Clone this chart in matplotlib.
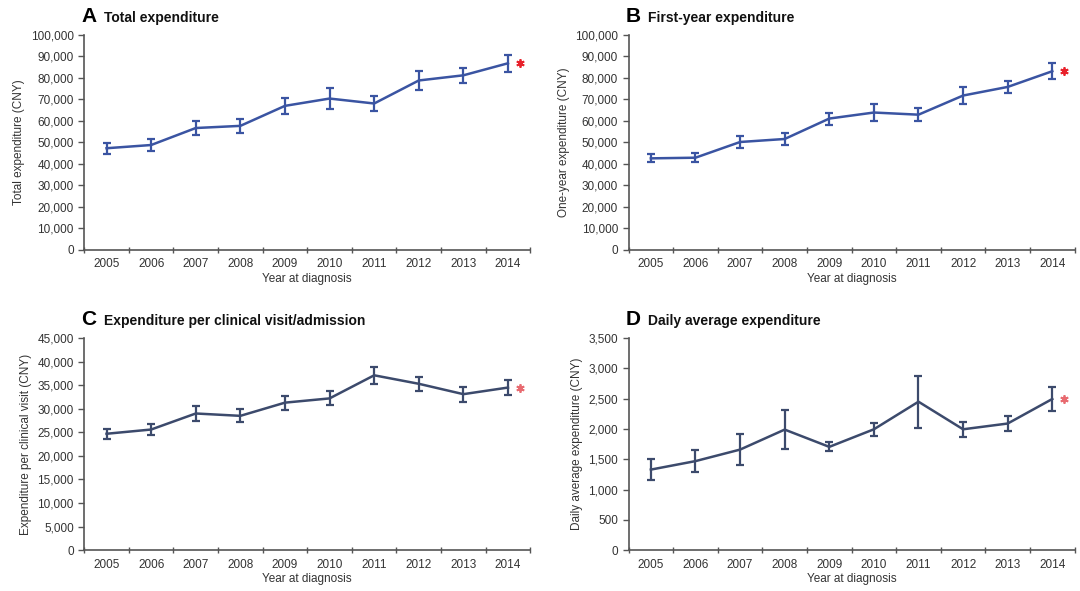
import matplotlib.pyplot as plt
from matplotlib.ticker import FuncFormatter, FixedLocator
import numpy as np

plt.rcParams["font.family"] = ["Liberation Sans", "DejaVu Sans"]

# ---------------- data ----------------
years = ["2005", "2006", "2007", "2008", "2009", "2010", "2011", "2012", "2013", "2014"]

total_mean = [47300, 48800, 56700, 57700, 67000, 70400, 68100, 78800, 81200, 86800]
total_err = [2600, 3000, 3400, 3300, 3700, 4800, 3700, 4600, 3600, 4000]

first_mean = [42600, 42900, 50200, 51600, 61100, 63900, 62900, 71800, 75800, 83100]
first_err = [1900, 2000, 2600, 2600, 2800, 4000, 3100, 4000, 2900, 3700]

visit_mean = [24700, 25600, 29000, 28500, 31300, 32200, 37100, 35300, 33100, 34500]
visit_err = [1100, 1100, 1500, 1400, 1500, 1500, 1800, 1500, 1600, 1600]

daily_mean = [1330, 1470, 1660, 1990, 1705, 1995, 2450, 1995, 2090, 2495]
daily_err = [170, 180, 260, 320, 75, 110, 430, 120, 125, 200]

panels = [
    ("A", "Total expenditure", "Total expenditure (CNY)", total_mean, total_err, 100000, 10000, "#3a54a2", "#e8212b"),
    ("B", "First-year expenditure", "One-year expenditure (CNY)", first_mean, first_err, 100000, 10000, "#3a54a2", "#e8212b"),
    ("C", "Expenditure per clinical visit/admission", "Expenditure per clinical visit (CNY)", visit_mean, visit_err, 45000, 5000, "#3c4a6c", "#e86a70"),
    ("D", "Daily average expenditure", "Daily average expenditure (CNY)", daily_mean, daily_err, 3500, 500, "#3c4a6c", "#e86a70"),
]

# axes boxes in figure fractions [left, bottom, width, height]
boxes = [
    [0.078, 0.577, 0.413, 0.364],
    [0.582, 0.577, 0.413, 0.364],
    [0.078, 0.069, 0.413, 0.359],
    [0.582, 0.069, 0.413, 0.359],
]

fig = plt.figure(figsize=(10.8, 5.91), dpi=100)
text_col = "#333333"
axis_col = "#555555"

for (letter, title, ylabel, mean, err, ymax, ystep, lc, star_c), box in zip(panels, boxes):
    ax = fig.add_axes(box)
    x = np.arange(len(years))
    ax.errorbar(x, mean, yerr=err, color=lc, lw=1.8, elinewidth=1.6,
                capsize=3, capthick=1.6)
    # significance mark next to the last year
    ax.plot([x[-1] + 0.27], [mean[-1]], marker=(6, 2, 0), ms=6, mew=1.3,
            color=star_c, ls="none", clip_on=False)

    ax.set_xlim(-0.5, len(years) - 0.5)
    ax.set_ylim(0, ymax)
    ax.set_yticks(np.arange(0, ymax + 1, ystep))
    ax.yaxis.set_major_formatter(FuncFormatter(lambda v, p: f"{int(v):,}"))
    ax.set_xticks(x)
    ax.set_xticklabels(years)
    ax.xaxis.set_minor_locator(FixedLocator(np.arange(-0.5, len(years), 1.0)))
    ax.tick_params(axis="x", which="major", length=0, pad=6, labelsize=8.5, colors=text_col)
    ax.tick_params(axis="x", which="minor", length=4, direction="inout", color=axis_col, width=1)
    ax.tick_params(axis="y", length=4, direction="out", color=axis_col, width=1,
                   labelsize=8.5, labelcolor=text_col)

    for s in ["top", "right"]:
        ax.spines[s].set_visible(False)
    for s in ["left", "bottom"]:
        ax.spines[s].set_color(axis_col)
        ax.spines[s].set_linewidth(1.2)

    ax.set_xlabel("Year at diagnosis", fontsize=8.5, color=text_col, labelpad=2)
    ax.set_ylabel(ylabel, fontsize=8.5, color=text_col, labelpad=4)

    # panel letter + title
    top = box[1] + box[3]
    fig.text(box[0] - 0.003, top + 0.015, letter, fontsize=15, fontweight="bold",
             color="black", ha="left", va="bottom")
    fig.text(box[0] + 0.018, top + 0.017, title, fontsize=10,
             fontweight="bold", color="#111111", ha="left", va="bottom")

fig.savefig("out.png", dpi=100)
